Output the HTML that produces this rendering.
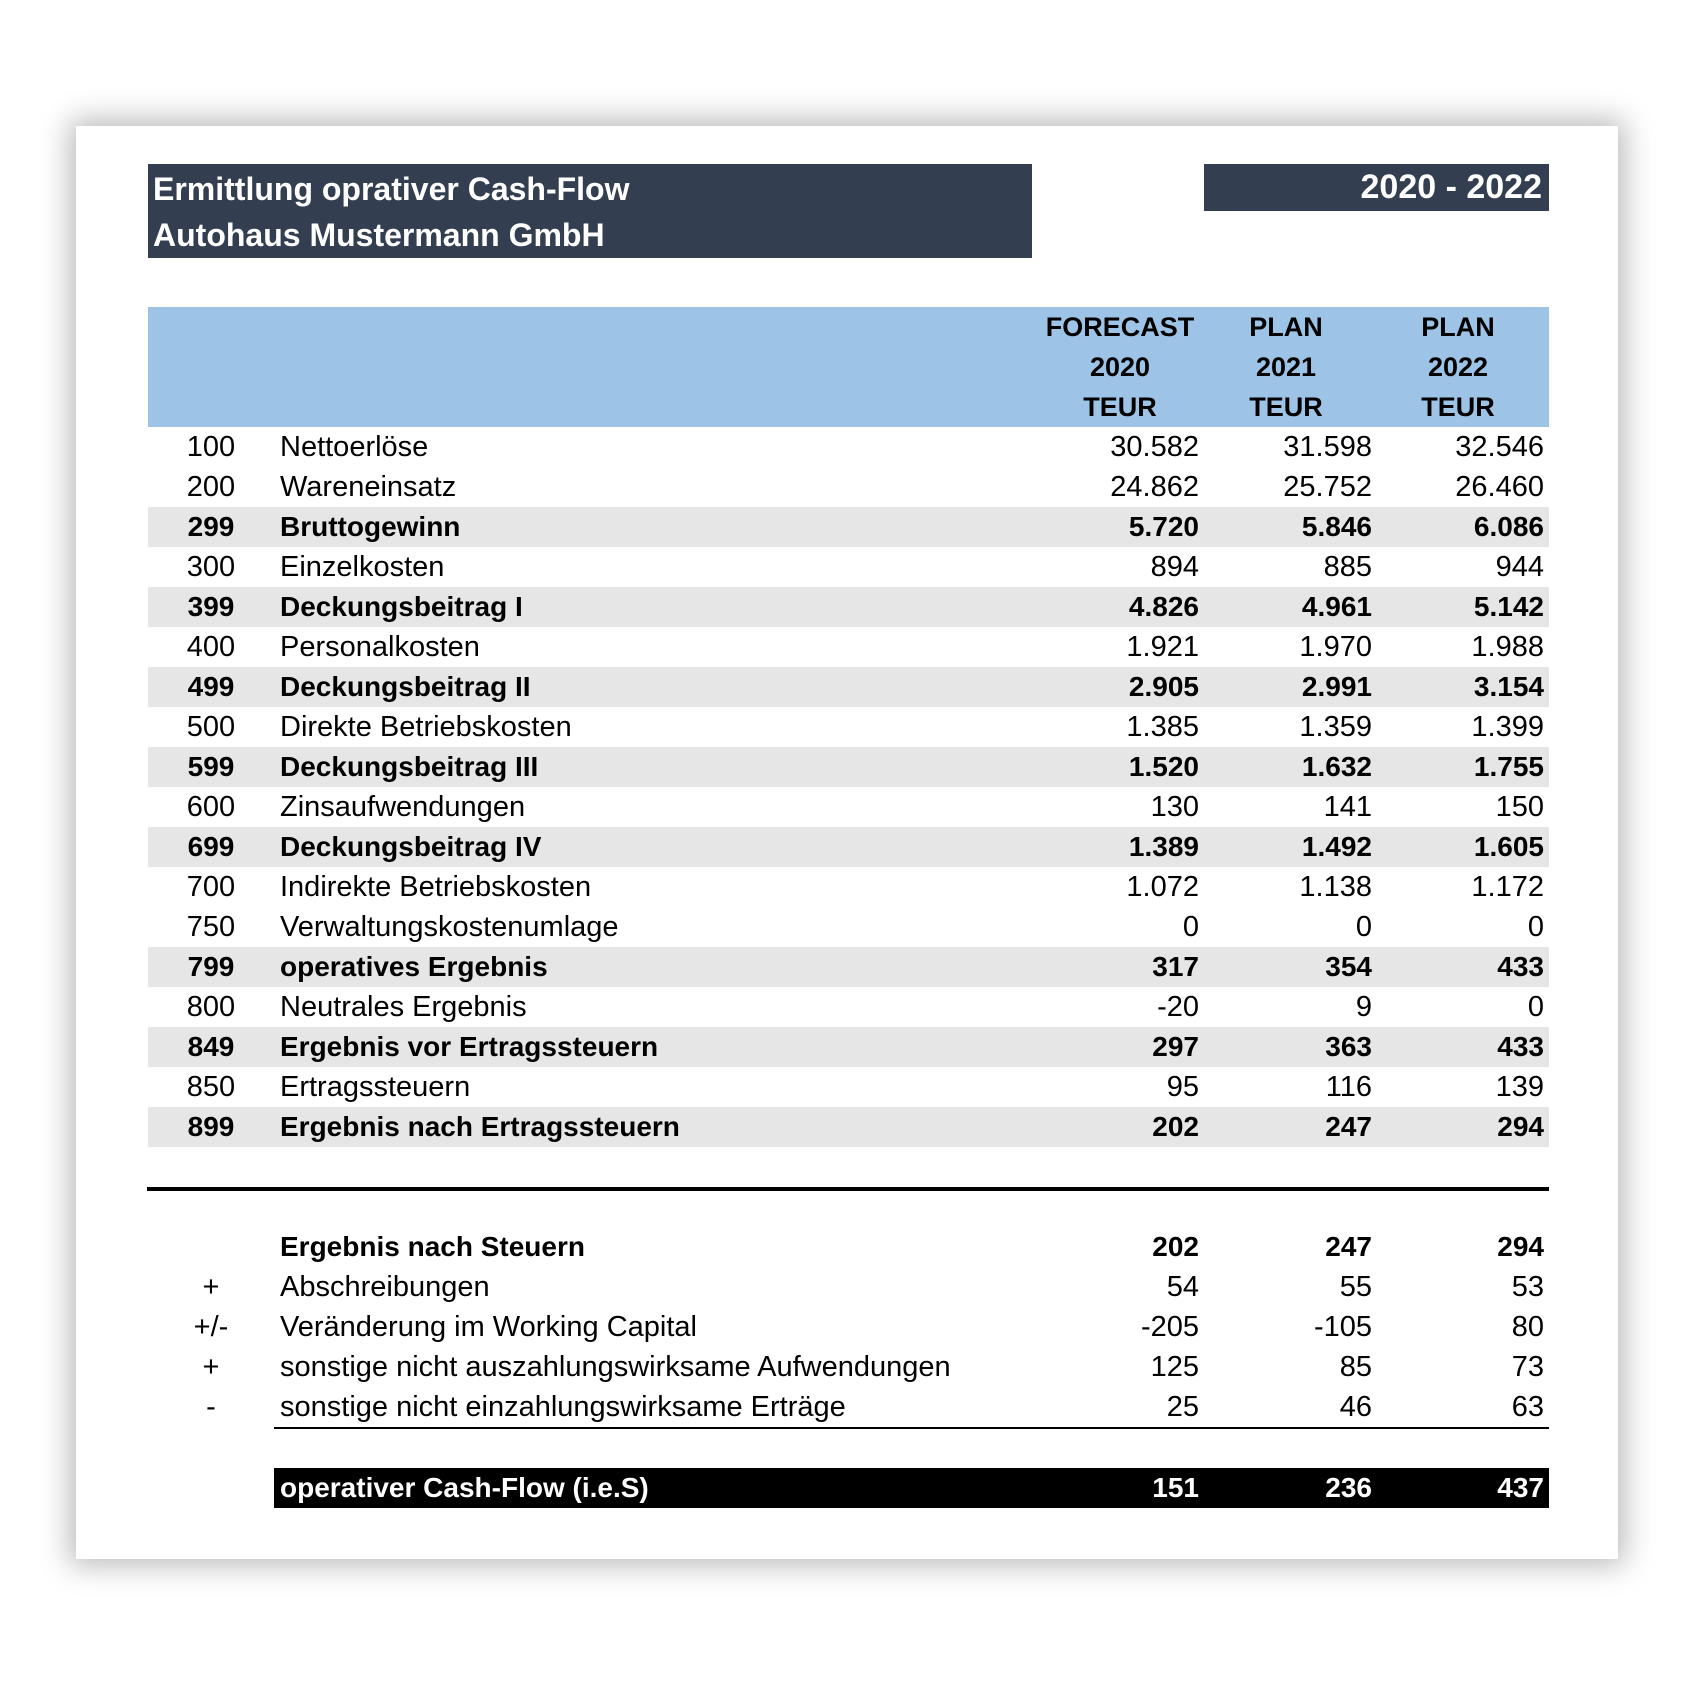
<!DOCTYPE html>
<html><head><meta charset="utf-8">
<style>
body{margin:0;width:1700px;height:1708px;background:#fff;position:relative;overflow:hidden;font-family:"Liberation Sans",sans-serif;color:#000}
.a{position:absolute}
#card{left:76px;top:126px;width:1542px;height:1433px;background:#fff;box-shadow:0 0 28px 6px rgba(0,0,0,0.28)}
.tb{background:#333f50;color:#fff;font-weight:bold;font-size:32px}
.r{position:absolute;left:148px;width:1401px;height:40px;line-height:40px;font-size:29px}
.r.g{background:#e7e6e6}
.r.b{font-weight:bold;font-size:28px}
.c{position:absolute;left:0;width:126px;text-align:center}
.l{position:absolute;left:132px;white-space:nowrap}
.v1,.v2,.v3{position:absolute;text-align:right;width:200px}
.v1{left:851px}.v2{left:1024px}.v3{left:1196px}
.h{position:absolute;text-align:center;width:200px;font-weight:bold;font-size:27px;line-height:40px}
</style></head><body>
<div id="card" class="a"></div>
<div class="a tb" style="left:148px;top:164px;width:884px;height:94px;">
<div class="a" style="left:5px;top:2px;line-height:46px;white-space:nowrap">Ermittlung oprativer Cash-Flow</div>
<div class="a" style="left:5px;top:48px;line-height:46px;white-space:nowrap">Autohaus Mustermann GmbH</div>
</div>
<div class="a tb" style="left:1204px;top:164px;width:345px;height:47px;line-height:47px;text-align:right;font-size:34px"><span style="padding-right:7px">2020 - 2022</span></div>

<div class="a" style="left:148px;top:307px;width:1401px;height:120px;background:#9dc3e6;">
<div class="h" style="left:872px;top:0">FORECAST<br>2020<br>TEUR</div>
<div class="h" style="left:1038px;top:0">PLAN<br>2021<br>TEUR</div>
<div class="h" style="left:1210px;top:0">PLAN<br>2022<br>TEUR</div>
</div>

<div class="r" style="top:427px"><span class="c">100</span><span class="l">Nettoerlöse</span><span class="v1">30.582</span><span class="v2">31.598</span><span class="v3">32.546</span></div>
<div class="r" style="top:467px"><span class="c">200</span><span class="l">Wareneinsatz</span><span class="v1">24.862</span><span class="v2">25.752</span><span class="v3">26.460</span></div>
<div class="r g b" style="top:507px"><span class="c">299</span><span class="l">Bruttogewinn</span><span class="v1">5.720</span><span class="v2">5.846</span><span class="v3">6.086</span></div>
<div class="r" style="top:547px"><span class="c">300</span><span class="l">Einzelkosten</span><span class="v1">894</span><span class="v2">885</span><span class="v3">944</span></div>
<div class="r g b" style="top:587px"><span class="c">399</span><span class="l">Deckungsbeitrag I</span><span class="v1">4.826</span><span class="v2">4.961</span><span class="v3">5.142</span></div>
<div class="r" style="top:627px"><span class="c">400</span><span class="l">Personalkosten</span><span class="v1">1.921</span><span class="v2">1.970</span><span class="v3">1.988</span></div>
<div class="r g b" style="top:667px"><span class="c">499</span><span class="l">Deckungsbeitrag II</span><span class="v1">2.905</span><span class="v2">2.991</span><span class="v3">3.154</span></div>
<div class="r" style="top:707px"><span class="c">500</span><span class="l">Direkte Betriebskosten</span><span class="v1">1.385</span><span class="v2">1.359</span><span class="v3">1.399</span></div>
<div class="r g b" style="top:747px"><span class="c">599</span><span class="l">Deckungsbeitrag III</span><span class="v1">1.520</span><span class="v2">1.632</span><span class="v3">1.755</span></div>
<div class="r" style="top:787px"><span class="c">600</span><span class="l">Zinsaufwendungen</span><span class="v1">130</span><span class="v2">141</span><span class="v3">150</span></div>
<div class="r g b" style="top:827px"><span class="c">699</span><span class="l">Deckungsbeitrag IV</span><span class="v1">1.389</span><span class="v2">1.492</span><span class="v3">1.605</span></div>
<div class="r" style="top:867px"><span class="c">700</span><span class="l">Indirekte Betriebskosten</span><span class="v1">1.072</span><span class="v2">1.138</span><span class="v3">1.172</span></div>
<div class="r" style="top:907px"><span class="c">750</span><span class="l">Verwaltungskostenumlage</span><span class="v1">0</span><span class="v2">0</span><span class="v3">0</span></div>
<div class="r g b" style="top:947px"><span class="c">799</span><span class="l">operatives Ergebnis</span><span class="v1">317</span><span class="v2">354</span><span class="v3">433</span></div>
<div class="r" style="top:987px"><span class="c">800</span><span class="l">Neutrales Ergebnis</span><span class="v1">-20</span><span class="v2">9</span><span class="v3">0</span></div>
<div class="r g b" style="top:1027px"><span class="c">849</span><span class="l">Ergebnis vor Ertragssteuern</span><span class="v1">297</span><span class="v2">363</span><span class="v3">433</span></div>
<div class="r" style="top:1067px"><span class="c">850</span><span class="l">Ertragssteuern</span><span class="v1">95</span><span class="v2">116</span><span class="v3">139</span></div>
<div class="r g b" style="top:1107px"><span class="c">899</span><span class="l">Ergebnis nach Ertragssteuern</span><span class="v1">202</span><span class="v2">247</span><span class="v3">294</span></div>

<div class="a" style="left:147px;top:1187px;width:1402px;height:4px;background:#000"></div>

<div class="r b" style="top:1227px"><span class="l">Ergebnis nach Steuern</span><span class="v1">202</span><span class="v2">247</span><span class="v3">294</span></div>
<div class="r" style="top:1267px"><span class="c">+</span><span class="l">Abschreibungen</span><span class="v1">54</span><span class="v2">55</span><span class="v3">53</span></div>
<div class="r" style="top:1307px"><span class="c">+/-</span><span class="l">Veränderung im Working Capital</span><span class="v1">-205</span><span class="v2">-105</span><span class="v3">80</span></div>
<div class="r" style="top:1347px"><span class="c">+</span><span class="l">sonstige nicht auszahlungswirksame Aufwendungen</span><span class="v1">125</span><span class="v2">85</span><span class="v3">73</span></div>
<div class="r" style="top:1387px"><span class="c">-</span><span class="l">sonstige nicht einzahlungswirksame Erträge</span><span class="v1">25</span><span class="v2">46</span><span class="v3">63</span></div>
<div class="a" style="left:274px;top:1427px;width:1275px;height:2px;background:#000"></div>

<div class="a" style="left:274px;top:1468px;width:1275px;height:40px;background:#000"></div>
<div class="r b" style="top:1468px;color:#fff"><span class="l">operativer Cash-Flow (i.e.S)</span><span class="v1">151</span><span class="v2">236</span><span class="v3">437</span></div>
</body></html>
